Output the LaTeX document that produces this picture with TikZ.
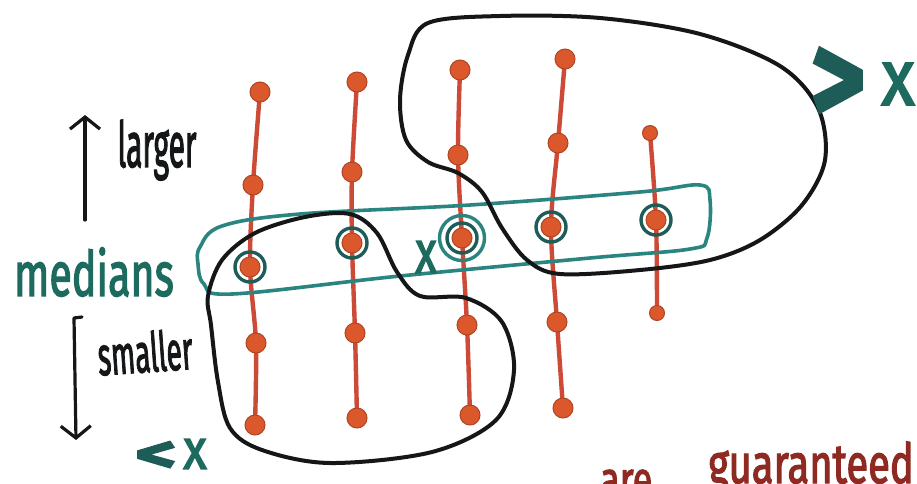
\documentclass[tikz,border=0pt]{standalone}
\usepackage{fontspec}
\setmainfont{Fira Sans}
\newfontfamily\handfont[FakeBold=2.6]{Fira Sans}
\usetikzlibrary{arrows.meta,backgrounds}
\definecolor{dotred}{HTML}{DB572C}
\definecolor{stemred}{HTML}{CC4A36}
\definecolor{medteal}{HTML}{2A8580}
\definecolor{ringteal}{HTML}{1E5C58}
\definecolor{labteal}{HTML}{1D6A5E}
\definecolor{inkblack}{HTML}{141618}
\definecolor{notered}{HTML}{8E2A22}
\begin{document}
\begin{tikzpicture}[x=1pt,y=-1pt,
  stem/.style={stemred, line width=4.4pt, line cap=round, line join=round},
  elem/.style={circle, fill=dotred, draw=dotred!80!black, line width=1pt,
    inner sep=0pt, minimum size=20pt},
  small elem/.style={elem, minimum size=15pt},
  medring/.style={circle, draw=ringteal, line width=3.4pt, inner sep=0pt,
    minimum size=30pt},
  outer ring/.style={medring, draw=medteal, minimum size=45pt},
  enclosure/.style={draw=medteal, line width=3.6pt, line join=round},
  region/.style={draw=inkblack, line width=4pt, line join=round},
  pointer/.style={draw=inkblack, line width=3.2pt, line cap=round, line join=round,
    -{Straight Barb[length=12pt,width=30pt,line width=3.2pt]}},
  hand/.style={inner sep=0pt, anchor=center, font=\handfont},
]
\useasboundingbox (0,0) rectangle (917,483);
\clip (0,0) rectangle (917,483);

% ---- elements of the five groups, top (largest) to bottom (smallest)
\node[elem] (a1) at (260,92) {};
\node[elem] (a2) at (253,185) {};
\node[elem] (a3) at (250,267) {};
\node[elem] (a4) at (256,343) {};
\node[elem] (a5) at (255,425) {};

\node[elem] (b1) at (357,82) {};
\node[elem] (b2) at (352,172) {};
\node[elem] (b3) at (352,243) {};
\node[elem] (b4) at (355,333) {};
\node[elem] (b5) at (357,418) {};

\node[elem] (c1) at (460,70) {};
\node[elem] (c2) at (458,155) {};
\node[elem] (c3) at (462,238) {};
\node[elem] (c4) at (467,325) {};
\node[elem] (c5) at (470,415) {};

\node[elem] (d1) at (565,59) {};
\node[elem] (d2) at (558,143) {};
\node[elem] (d3) at (551,227) {};
\node[elem] (d4) at (557,322) {};
\node[elem] (d5) at (563,408) {};

\node[small elem] (e1) at (650,133) {};
\node[elem] (e3) at (656,220) {};
\node[small elem] (e5) at (657,313) {};

% ---- vertical strokes joining each group (behind the dots)
\begin{pgfonlayer}{background}
  \fill[white] (0,0) rectangle (917,483);
  \draw[stem] plot[smooth, tension=0.5] coordinates
    {(a1.center) (a2.center) (a3.center) (a4.center) (a5.center)};
  \draw[stem] plot[smooth, tension=0.5] coordinates
    {(b1.center) (b2.center) (b3.center) (b4.center) (b5.center)};
  \draw[stem] plot[smooth, tension=0.5] coordinates
    {(c1.center) (c2.center) (c3.center) (c4.center) (c5.center)};
  \draw[stem] plot[smooth, tension=0.5] coordinates
    {(d1.center) (d2.center) (d3.center) (d4.center) (d5.center)};
  \draw[stem] plot[smooth, tension=0.5] coordinates
    {(e1.center) (e3.center) (e5.center)};
\end{pgfonlayer}

% ---- rings marking the medians
\node[medring] (ra) at (a3) {};
\node[medring] (rb) at (b3) {};
\node[medring] (rc) at (c3) {};
\node[outer ring] (rcc) at (c3) {};
\node[medring] (rd) at (d3) {};
\node[medring] (re) at (e3) {};

% ---- band around the medians
\draw[enclosure] plot[smooth cycle, tension=0.6] coordinates {
  (200,247) (222,226) (300,214) (470,205) (640,192) (700,185) (710,200)
  (707,238) (690,249) (590,258) (400,276) (232,294) (204,284) (198,264)};

% ---- region of elements larger than x
\draw[region] plot[smooth cycle, tension=0.55] coordinates {
  (428,23) (500,16) (600,18) (700,34) (780,66) (818,108) (825,160)
  (802,205) (760,240) (710,260) (640,270) (560,274) (527,260) (502,228)
  (482,192) (458,173) (428,162) (406,140) (400,100) (408,55)};

% ---- region of elements smaller than x
\draw[region] plot[smooth cycle, tension=0.55] coordinates {
  (208,296) (222,260) (255,233) (305,217) (350,214) (377,233) (397,272)
  (420,296) (466,298) (502,322) (514,370) (496,420) (432,452) (330,463)
  (262,450) (230,428) (218,382) (211,325)};

% ---- labels
\node[hand, text=labteal] (mx) at (426,257)
  {\fontsize{52}{52}\selectfont\scalebox{0.85}[1.15]{x}};
\node[hand, text=ringteal] (gt) at (838,86)
  {\fontsize{110}{110}\selectfont\bfseries\scalebox{0.95}[1.2]{>}};
\node[hand, text=labteal] (gx) at (898,84)
  {\fontsize{72}{72}\selectfont\scalebox{0.95}[1.1]{x}};
\node[hand, text=ringteal] (lt) at (156,457)
  {\fontsize{72}{72}\selectfont\bfseries\scalebox{1.1}[0.75]{<}};
\node[hand, text=labteal] (lx) at (195,454)
  {\fontsize{54}{54}\selectfont\scalebox{0.9}[1.05]{x}};

\node[hand, text=labteal] (med) at (94,272)
  {\fontsize{40}{40}\selectfont\scalebox{1.03}[1.55]{medians}};
\node[hand, text=inkblack] (lg) at (157,150)
  {\fontsize{34}{34}\selectfont\scalebox{0.88}[1.85]{larger}};
\node[hand, text=inkblack, rotate=4] (sm) at (145,352)
  {\fontsize{32}{32}\selectfont\scalebox{0.88}[1.7]{smaller}};

\coordinate (upfoot) at (85,220);
\coordinate (uphead) at (85,115);
\draw[pointer] (upfoot) -- (uphead);
\coordinate (dntick) at (82,317);
\coordinate (dntop) at (74,318);
\coordinate (dnhead) at (76,440);
\draw[pointer] (dntick) -- (dntop) -- (dnhead);

\node[hand, anchor=base west, text=notered] (are) at (600,497)
  {\fontsize{36}{36}\selectfont\scalebox{1.0}[1.4]{are}};
\node[hand, anchor=base west, text=notered] (guar) at (708,483)
  {\fontsize{38}{38}\selectfont\scalebox{1.05}[1.45]{guaranteed}};
\end{tikzpicture}
\end{document}
